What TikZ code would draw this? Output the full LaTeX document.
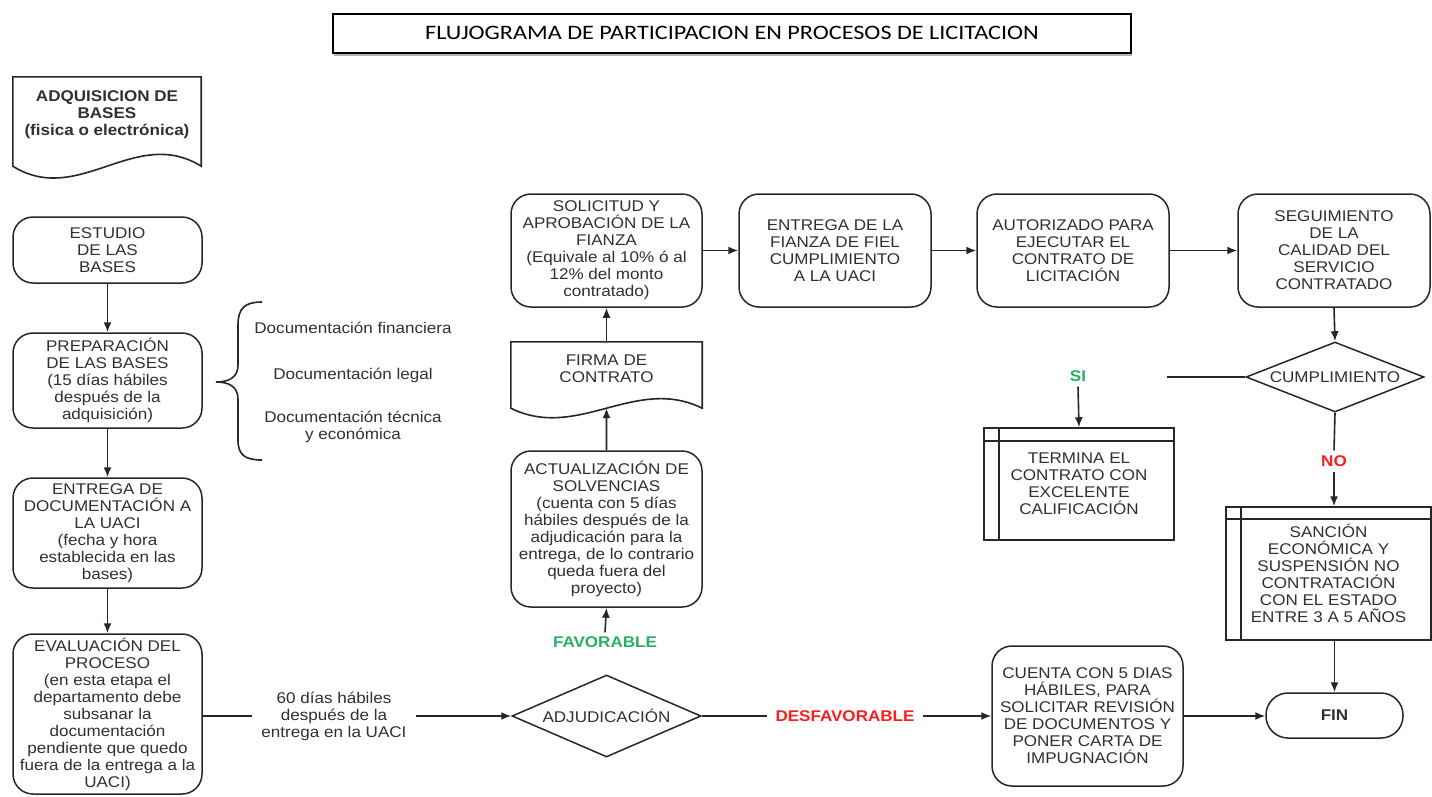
\documentclass[tikz,border=0pt]{standalone}
\usepackage{fontspec}
\setmainfont[FakeStretch=1.1]{Liberation Sans}
\newfontfamily\titlefont[FakeStretch=1.18]{Carlito}
\usetikzlibrary{arrows.meta,shapes.geometric,shadows,calc}
\definecolor{txt}{HTML}{303030}
\definecolor{ln}{HTML}{262626}
\definecolor{okgreen}{RGB}{38,176,96}
\definecolor{nored}{RGB}{250,30,30}
\newcommand{\bodysize}{\fontsize{15.5}{17}\selectfont}
\begin{document}
\begin{tikzpicture}[x=1pt,y=-1pt,
  every node/.style={font=\bodysize, text=txt, align=center, inner sep=0pt},
  proc/.style={draw=ln, line width=1.5pt, rounded corners=20pt},
  decis/.style={diamond, draw=ln, line width=1.5pt},
  predef/.style={draw=ln, line width=1.5pt},
  conn/.style={draw=ln, line width=1.6pt},
  arr/.style={conn, -{Latex[length=10pt,width=8pt]}},
  lbl/.style={font=\bodysize\bfseries, inner xsep=8pt, inner ysep=4pt},
]
\useasboundingbox (0,0) rectangle (1432,796);

% title
\node[draw=black, line width=2pt, fill=white, minimum width=798, minimum height=39,
      drop shadow={shadow xshift=1pt, shadow yshift=-3pt, fill=black!60},
      font=\titlefont\fontsize{20.5}{24}\selectfont, text=black] (title) at (732,33)
      {FLUJOGRAMA DE PARTICIPACION EN PROCESOS DE LICITACION};

% left column
\node[minimum width=188, minimum height=75, font=\bodysize\bfseries] (adq) at (107,114.5)
  {ADQUISICION DE\\BASES\\(fisica o electrónica)};
\draw[conn] (adq.north west) -- (adq.north east) -- ($(adq.south east)+(0,14)$)
  .. controls ($(adq.south east)+(-66,-27)$) and ($(adq.south west)+(66,55)$) .. ($(adq.south west)+(0,14)$) -- cycle;

\node[proc, minimum width=189, minimum height=66] (estudio) at (107.5,250) {ESTUDIO\\DE LAS\\BASES};
\node[proc, minimum width=189, minimum height=95] (prep) at (107.5,380.5)
  {PREPARACIÓN\\DE LAS BASES\\(15 días hábiles\\después de la\\adquisición)};
\node[proc, minimum width=189, minimum height=110] (entrega) at (107.5,533)
  {ENTREGA DE\\DOCUMENTACIÓN A\\LA UACI\\(fecha y hora\\establecida en las\\bases)};
\node[proc, minimum width=189, minimum height=160] (eval) at (107.5,714)
  {EVALUACIÓN DEL\\PROCESO\\(en esta etapa el\\departamento debe\\subsanar la\\documentación\\pendiente que quedo\\fuera de la entrega a la\\UACI)};

% brace and documentation list
\draw[conn] (262,302) .. controls (245,302) and (238,308) .. (238,325) -- (238,365)
  .. controls (238,378) and (228,382) .. (216,382) .. controls (228,382) and (238,386) .. (238,399)
  -- (238,440) .. controls (238,455) and (245,460) .. (262,460);
\node (docfin) at (353,328) {Documentación financiera};
\node (docleg) at (353,375) {Documentación legal};
\node (doctec) at (353,427) {Documentación técnica\\y económica};

\node[inner xsep=9pt] (lbl60) at (334,716) {60 días hábiles\\después de la\\entrega en la UACI};

% middle column
\node[decis, aspect=2.3, minimum width=189, minimum height=82] (adj) at (606.5,716) {ADJUDICACIÓN};
\node[lbl, text=nored] (desf) at (845,716) {DESFAVORABLE};
\node[lbl, text=okgreen] (fav) at (605,642) {FAVORABLE};
\node[proc, minimum width=191, minimum height=156] (act) at (606.5,529)
  {ACTUALIZACIÓN DE\\SOLVENCIAS\\(cuenta con 5 días\\hábiles después de la\\adjudicación para la\\entrega, de lo contrario\\queda fuera del\\proyecto)};
\node[minimum width=191, minimum height=54] (firma) at (606.5,369) {FIRMA DE\\CONTRATO};
\draw[conn] (firma.north west) -- (firma.north east) -- ($(firma.south east)+(0,12)$)
  .. controls ($(firma.south east)+(-67,-21)$) and ($(firma.south west)+(67,45)$) .. ($(firma.south west)+(0,12)$)
  coordinate[pos=0.5] (firmabot) -- cycle;
\node[proc, minimum width=191, minimum height=113] (sol) at (606.5,250.5)
  {SOLICITUD Y\\APROBACIÓN DE LA\\FIANZA\\(Equivale al 10\% ó al\\12\% del monto\\contratado)};
\node[proc, minimum width=192, minimum height=113] (fianza) at (835,250.5)
  {ENTREGA DE LA\\FIANZA DE FIEL\\CUMPLIMIENTO\\A LA UACI};
\node[proc, minimum width=192, minimum height=113] (aut) at (1073,250.5)
  {AUTORIZADO PARA\\EJECUTAR EL\\CONTRATO DE\\LICITACIÓN};
\node[proc, minimum width=192, minimum height=113] (seg) at (1334,250.5)
  {SEGUIMIENTO\\DE LA\\CALIDAD DEL\\SERVICIO\\CONTRATADO};

% right part
\node[decis, aspect=2.54, minimum width=178, minimum height=70] (cump) at (1335,377) {CUMPLIMIENTO};
\node[lbl, text=okgreen, inner xsep=2pt, inner ysep=5pt] (si) at (1078,376) {SI};
\coordinate (sifree) at (1167,377);
\node[predef, minimum width=190, minimum height=112] (termina) at (1079,484)
  {TERMINA EL\\CONTRATO CON\\EXCELENTE\\CALIFICACIÓN};
\draw[conn] ($(termina.north west)+(16,0)$) -- ($(termina.south west)+(16,0)$);
\draw[conn] ($(termina.north west)+(0,14)$) -- ($(termina.north east)+(0,14)$);
\node[lbl, text=nored, inner xsep=2pt, inner ysep=5pt] (no) at (1334,461) {NO};
\node[predef, minimum width=205, minimum height=133] (sancion) at (1328.5,573.5)
  {SANCIÓN\\ECONÓMICA Y\\SUSPENSIÓN NO\\CONTRATACIÓN\\CON EL ESTADO\\ENTRE 3 A 5 AÑOS};
\draw[conn] ($(sancion.north west)+(16,0)$) -- ($(sancion.south west)+(16,0)$);
\draw[conn] ($(sancion.north west)+(0,13)$) -- ($(sancion.north east)+(0,13)$);
\node[proc, rounded corners=22pt, minimum width=137, minimum height=45, font=\bodysize\bfseries] (fin) at (1334.5,715.5) {FIN};
\node[proc, minimum width=191, minimum height=140] (cuenta) at (1087.5,716)
  {CUENTA CON 5 DIAS\\HÁBILES, PARA\\SOLICITAR REVISIÓN\\DE DOCUMENTOS Y\\PONER CARTA DE\\IMPUGNACIÓN};

% connectors
\draw[arr] (estudio) -- (prep);
\draw[arr] (prep) -- (entrega);
\draw[arr] (entrega) -- (eval);
\draw[conn] (eval.east |- lbl60.west) -- (lbl60.west);
\draw[arr] (lbl60.east) -- (adj.west);
\draw[conn] (adj.east) -- (desf.west);
\draw[arr] (desf.east) -- (cuenta.west);
\draw[arr] (cuenta.east) -- (cuenta.east -| fin.west);
\draw[arr] (fav.north) -- (act.south);
\draw[arr] (act.north) -- (firmabot);
\draw[arr] (firma.north) -- (sol.south);
\draw[arr] (sol.east) -- (fianza.west);
\draw[arr] (fianza.east) -- (aut.west);
\draw[arr] (aut.east) -- (seg.west);
\draw[arr] (seg.south) -- (cump.north);
\draw[conn] (cump.west) -- (sifree);
\draw[arr] (si.south) -- (termina.north);
\draw[conn] (cump.south) -- (no.north);
\draw[arr] (no.south) -- (no.south |- sancion.north);
\draw[arr] (fin.north |- sancion.south) -- (fin.north);
\end{tikzpicture}
\end{document}
